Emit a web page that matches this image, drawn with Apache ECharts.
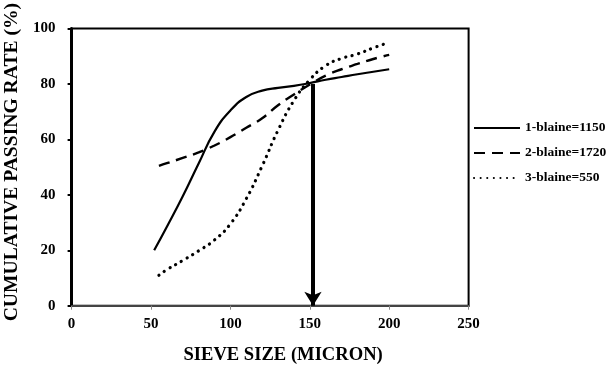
<!DOCTYPE html>
<html><head><meta charset="utf-8">
<script src="https://cdn.jsdelivr.net/npm/echarts@6/dist/echarts.min.js"></script>
<style>html,body{margin:0;padding:0;background:#fff}#c{width:606px;height:370px}</style>
</head><body><div id="c"></div>
<script>
const xTicks = [0, 50, 100, 150, 200, 250];
const yTicks = [0, 20, 40, 60, 80, 100];
const names = ['1-blaine=1150', '2-blaine=1720', '3-blaine=550'];
const s1 = [[52,20],[60,28.5],[70,39.5],[80,51.3],[90,62.8],[100,70.4],[110,75.3],[120,77.6],[130,78.6],[140,79.3],[150,80.3],[160,81.5],[170,82.5],[180,83.5],[190,84.4],[200,85.3]];
const s2 = [[55,50.4],[60,51.4],[70,53.3],[80,55.3],[90,57.8],[100,60.8],[110,64.2],[120,67.6],[130,72.3],[140,76.2],[150,79.8],[160,83],[170,85.3],[180,87.2],[190,89],[200,90.5]];
const s3 = [[55,11],[60,13],[70,16.3],[80,19.8],[90,23.7],[100,29.5],[110,38.6],[120,50.4],[130,63.3],[140,74],[150,81.5],[160,86.6],[170,89.2],[180,90.8],[190,93],[200,95]];
const arrowFrom = [152, 80];
const arrowTo = [152, 0];

const font = '"Liberation Serif", "Times New Roman", serif';
const chart = echarts.init(document.getElementById('c'), null, {renderer: 'canvas'});
chart.setOption({
  animation: false,
  backgroundColor: '#fff',
  grid: {left: 71.6, right: 137.4, top: 28.5, bottom: 64.3, show: true, borderColor: '#000', borderWidth: 2,
         containLabel: false, outerBoundsMode: 'none'},
  legend: {
    orient: 'vertical', left: 468, top: 116, itemWidth: 46, itemHeight: 14, itemGap: 11,
    data: names,
    itemStyle: {color: 'rgba(0,0,0,0)', borderWidth: 0, opacity: 0},
    textStyle: {fontFamily: font, fontWeight: 'bold', fontSize: 13.5, color: '#000'}
  },
  xAxis: {
    type: 'value', min: xTicks[0], max: xTicks[xTicks.length-1], interval: 50,
    name: 'SIEVE SIZE (MICRON)', nameLocation: 'middle', nameGap: 40,
    nameTextStyle: {fontFamily: font, fontWeight: 'bold', fontSize: 18.6, color: '#000', padding: [0, 0, 0, 26]},
    axisLine: {lineStyle: {color: '#444', width: 2}},
    axisTick: {show: true, inside: false, length: 4, lineStyle: {color: '#888', width: 1}},
    axisLabel: {fontFamily: font, fontWeight: 'bold', fontSize: 15, color: '#000', margin: 11},
    splitLine: {show: false}
  },
  yAxis: {
    type: 'value', min: yTicks[0], max: yTicks[yTicks.length-1], interval: 20,
    name: 'CUMULATIVE PASSING RATE (%)', nameLocation: 'middle', nameGap: 45,
    nameTextStyle: {fontFamily: font, fontWeight: 'bold', fontSize: 19.6, color: '#000', padding: [0, 0, 0, 10]},
    axisLine: {lineStyle: {color: '#000', width: 3}},
    axisTick: {show: true, length: 4, lineStyle: {color: '#000', width: 2}},
    axisLabel: {fontFamily: font, fontWeight: 'bold', fontSize: 15, color: '#000', margin: 16},
    splitLine: {show: false}
  },
  series: [
    {name: names[0], type: 'line', data: s1, smooth: 0.5, showSymbol: false, symbol: 'none',
     lineStyle: {color: '#000', width: 2.2, type: 'solid'}, itemStyle: {color: '#000'},
     markLine: {silent: true, symbol: ['none', 'arrow'], symbolSize: [13, 14],
       lineStyle: {color: '#000', width: 4, type: 'solid'}, label: {show: false},
       data: [[{coord: arrowFrom}, {coord: arrowTo}]]}},
    {name: names[1], type: 'line', data: s2, smooth: 0.5, showSymbol: false, symbol: 'none',
     lineStyle: {color: '#000', width: 2.4, type: [11, 7]}, itemStyle: {color: '#000'}},
    {name: names[2], type: 'line', data: s3, smooth: 0.5, showSymbol: false, symbol: 'none',
     lineStyle: {color: '#000', width: 3.2, type: [0.1, 6.5], cap: 'round'}, itemStyle: {color: '#000'}}
  ]
});
</script></body></html>
